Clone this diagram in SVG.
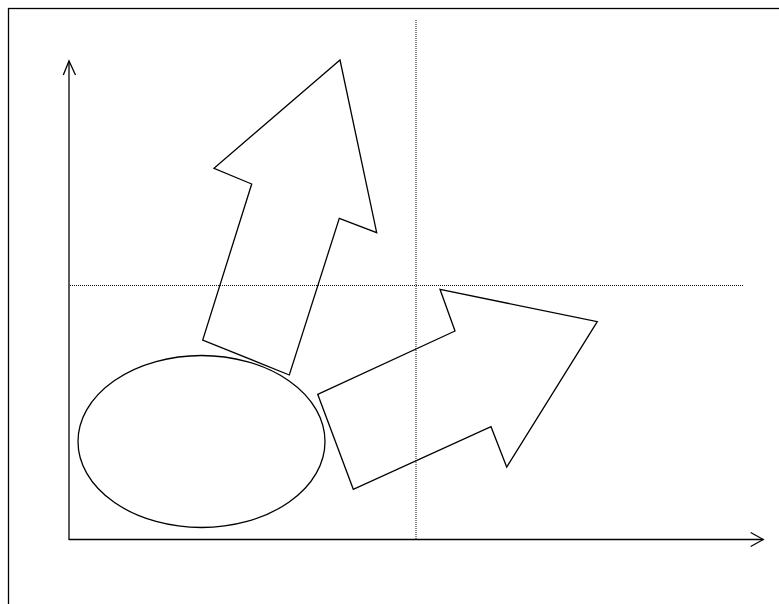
<svg xmlns="http://www.w3.org/2000/svg" width="779" height="604" viewBox="0 0 779 604">
<style>
.ln{fill:none;stroke:#000;stroke-width:1.3;stroke-linejoin:miter}
.sh{fill:#fff;stroke:#000;stroke-width:1.3;stroke-linejoin:miter}
.dot{fill:none;stroke:#111;stroke-width:1;stroke-dasharray:1 1}
</style>
<rect x="0" y="0" width="779" height="604" fill="#fff"/>
<rect x="8.5" y="8.5" width="780" height="610" class="ln"/>
<g id="axes">
<polyline points="69,540 69,61" class="ln"/>
<polyline points="63.3,75 69,61 75.5,75" class="ln"/>
<polyline points="69,539.5 763,539.5" class="ln"/>
<polyline points="750.7,532.5 763.3,539.5 750.7,546.5" class="ln"/>
</g>
<g id="ellipse">
<ellipse cx="201.5" cy="441.5" rx="123.5" ry="86" class="sh"/>
</g>
<g id="arrow-up">
<polygon points="340,60 376.7,232.7 339.3,218.3 289.3,375 202.7,340 251.7,184 214,168.3" class="sh"/>
</g>
<g id="arrow-right">
<polygon points="597.3,321.7 506.7,467 491,426.7 353.3,489.3 317.7,394.3 455,331 440,289.3" class="sh"/>
</g>
<g id="guides">
<line x1="416" y1="20" x2="416" y2="540" class="dot"/>
<line x1="70" y1="285.5" x2="743" y2="285.5" class="dot"/>
</g>
</svg>
